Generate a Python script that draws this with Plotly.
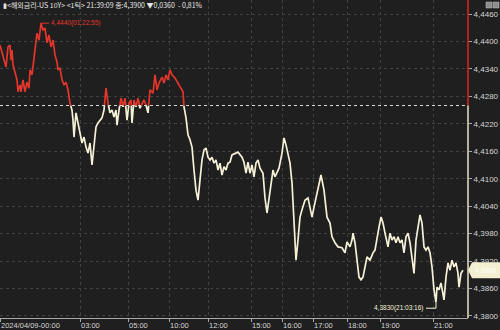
import plotly.graph_objects as go

# ---- data ----
tick_pos = [0,2,4,6,8,10,11,12,13,15,17,18,20,21,23,25,27,29,30,32,33,35,37,39,41,43,45,47,49,51,53,55,57,58,60,62,64,66,68,70,72,73,74,76,78,80,82,84,86,88,90,92,94,96,98,100,102,104,106,108,110,112,114,116,117,119,121,123,125,127,129,131,132,134,136,138,140,142,144,146,148,150,153,155,157,159,162,164,166,168,170,172,175,178,180,183,184,186,188,190,192,194,196,198,200,202,204,206,208,210,212,214,216,218,220,222,224,226,228,230,232,236,238,242,244,246,248,250,252,254,256,258,260,263,265,267,269,271,273,275,277,279,282,284,286,288,290,292,294,296,298,300,302,305,308,310,312,314,316,318,321,324,327,330,332,335,338,342,345,347,350,352,353,355,357,359,361,363,365,367,370,373,375,377,379,381,383,385,388,390,392,394,396,398,400,402,404,406,408,410,412,414,416,418,420,422,424,426,428,430,432,434,436,437,439,441,443,444,446,448,450,452,454,456,458,459,461,463]
yields = [4.4392,4.4377,4.4359,4.4344,4.4388,4.4392,4.4359,4.4381,4.4349,4.4333,4.4316,4.4290,4.4305,4.4290,4.4316,4.4290,4.4311,4.4298,4.4338,4.4327,4.4344,4.4381,4.4418,4.4403,4.4440,4.4425,4.4429,4.4397,4.4414,4.4388,4.4403,4.4370,4.4355,4.4338,4.4342,4.4316,4.4305,4.4311,4.4294,4.4265,4.4250,4.4228,4.4191,4.4244,4.4222,4.4196,4.4178,4.4191,4.4169,4.4156,4.4178,4.4130,4.4178,4.4213,4.4222,4.4228,4.4233,4.4250,4.4298,4.4265,4.4244,4.4250,4.4235,4.4250,4.4217,4.4250,4.4276,4.4257,4.4276,4.4228,4.4265,4.4272,4.4222,4.4272,4.4257,4.4276,4.4254,4.4265,4.4272,4.4261,4.4244,4.4294,4.4287,4.4327,4.4294,4.4309,4.4322,4.4309,4.4327,4.4316,4.4338,4.4327,4.4320,4.4309,4.4300,4.4290,4.4257,4.4233,4.4196,4.4185,4.4169,4.4119,4.4075,4.4053,4.4104,4.4141,4.4163,4.4167,4.4147,4.4141,4.4147,4.4134,4.4141,4.4119,4.4134,4.4108,4.4126,4.4119,4.4134,4.4136,4.4152,4.4156,4.4158,4.4147,4.4136,4.4112,4.4136,4.4112,4.4130,4.4104,4.4134,4.4141,4.4123,4.4112,4.4058,4.4025,4.4053,4.4086,4.4119,4.4104,4.4112,4.4123,4.4156,4.4189,4.4174,4.4156,4.4134,4.4091,4.4016,4.3922,4.3966,4.4016,4.4032,4.4053,4.4058,4.4038,4.4016,4.4038,4.4060,4.4082,4.4108,4.4075,4.4016,4.4003,4.3973,4.3960,4.3951,4.3949,4.3938,4.3962,4.3951,4.3966,4.3981,4.3960,4.3922,4.3885,4.3879,4.3885,4.3907,4.3929,4.3922,4.3938,4.3944,4.3973,4.3994,4.4016,4.4003,4.3981,4.3951,4.3981,4.3966,4.3973,4.3960,4.3973,4.3960,4.3966,4.3938,4.3973,4.3981,4.3960,4.3922,4.3893,4.3966,4.3994,4.4021,4.4003,4.3951,4.3944,4.3951,4.3938,4.3907,4.3857,4.3830,4.3863,4.3857,4.3872,4.3850,4.3835,4.3885,4.3916,4.3900,4.3922,4.3907,4.3916,4.3893,4.3863,4.3893,4.3900]

prev_close = 4.4260
last_price = 4.3900
high_val, high_pos, high_time = 4.4440, 41, "01:22:55"
low_val, low_pos, low_time = 4.3830, 436, "21:03:16"

x_tick_pos = [0, 80, 128, 169, 208, 251, 282, 313, 347, 380, 433]
x_tick_labels = ["2024/04/09-00:00", "03:00", "05:00", "10:00", "12:00", "15:00",
                 "16:00", "17:00", "18:00", "19:00", "21:00"]
y_tick_vals = [4.3800, 4.3860, 4.3920, 4.3980, 4.4040, 4.4100, 4.4160,
               4.4220, 4.4280, 4.4340, 4.4400, 4.4460]

header = "▮<해외금리-US 10Y> <1틱> 21:39:09 종:4,3900 ▼0,0360  - 0,81%"

RED = "#e3362b"
CREAM = "#f4f1d6"
BG = "#1f1f1f"
GRID = "#404040"
TXT = "#d6d6d6"

def fmt(v):
    return f"{v:.4f}".replace(".", ",")

# split the series at the previous close into red (above) and cream (below)
def split(xs, ys, ref):
    out = {True: ([], []), False: ([], [])}
    def add(side, xa, ya, xb, yb):
        lx, ly = out[side]
        if not (lx and lx[-1] == xa and ly[-1] == ya):
            if lx:
                lx.append(None); ly.append(None)
            lx.append(xa); ly.append(ya)
        lx.append(xb); ly.append(yb)
    for i in range(len(xs) - 1):
        x0, y0, x1, y1 = xs[i], ys[i], xs[i + 1], ys[i + 1]
        s0, s1 = y0 >= ref, y1 >= ref
        if s0 == s1:
            add(s0, x0, y0, x1, y1)
        else:
            xc = x0 + (ref - y0) * (x1 - x0) / (y1 - y0)
            add(s0, x0, y0, xc, ref)
            add(s1, xc, ref, x1, y1)
    return out

parts = split(tick_pos, yields, prev_close)

fig = go.Figure()
fig.add_trace(go.Scatter(x=parts[False][0], y=parts[False][1], mode="lines",
                         line=dict(color=CREAM, width=1.7), hoverinfo="skip"))
fig.add_trace(go.Scatter(x=parts[True][0], y=parts[True][1], mode="lines",
                         line=dict(color=RED, width=1.7), hoverinfo="skip"))

PX = 0.006 / 27.45   # value per pixel
y_top = 4.4460 + 14 * PX
y_bot = 4.4460 - 304 * PX
XMAX = 468

shapes = [
    dict(type="line", xref="x", yref="y", x0=0, x1=XMAX, y0=prev_close, y1=prev_close,
         line=dict(color="#d8d8d8", width=1, dash="dot")),
    dict(type="line", xref="paper", yref="y", x0=1, x1=1, y0=prev_close, y1=y_top,
         line=dict(color="#b3231c", width=2)),
    dict(type="line", xref="paper", yref="y", x0=1, x1=1, y0=y_bot, y1=prev_close,
         line=dict(color="#e8e4cc", width=1.5)),
    # high marker
    dict(type="line", xref="x", yref="y", x0=high_pos, x1=high_pos + 8, y0=high_val, y1=high_val,
         line=dict(color=RED, width=1)),
    dict(type="line", xref="x", yref="y", x0=high_pos, x1=high_pos, y0=high_val, y1=high_val - 3 * PX,
         line=dict(color=RED, width=1)),
    # low marker
    dict(type="line", xref="x", yref="y", x0=low_pos - 10, x1=low_pos, y0=low_val - 6 * PX, y1=low_val - 6 * PX,
         line=dict(color=CREAM, width=1)),
    dict(type="line", xref="x", yref="y", x0=low_pos, x1=low_pos, y0=low_val - 6 * PX, y1=low_val,
         line=dict(color=CREAM, width=1)),
]

# last price box
bx0 = 468 / XMAX
bx1 = 500 / XMAX
bxa = 472 / XMAX
h = 8 * PX
shapes.append(dict(type="path", xref="paper", yref="y",
                   path=f"M {bx0} {last_price} L {bxa} {last_price + h} L {bx1} {last_price + h} "
                        f"L {bx1} {last_price - h} L {bxa} {last_price - h} Z",
                   fillcolor="#f3f0d2", line=dict(width=0)))
# top-right icons
for xa, xb in [(486, 492), (493, 499)]:
    shapes.append(dict(type="rect", xref="paper", yref="paper",
                       x0=xa / XMAX, x1=xb / XMAX, y0=1 - 8 / 318, y1=1 - 2 / 318,
                       fillcolor="#8c8c8c", line=dict(color="#bdbdbd", width=0.5)))

annotations = [
    dict(text=header, xref="paper", yref="paper", x=0.002, y=1 - 5 / 318,
         xanchor="left", yanchor="middle", showarrow=False,
         font=dict(family="Noto Sans CJK KR", size=7, color="#e6e6e6")),
    dict(text=f"{fmt(high_val)}({high_time})", xref="x", yref="y", x=high_pos + 8, y=high_val,
         xanchor="left", yanchor="middle", showarrow=False,
         font=dict(family="Liberation Sans", size=6.5, color=RED)),
    dict(text=f"{fmt(low_val)}({low_time})", xref="x", yref="y", x=low_pos - 10, y=low_val - 6 * PX,
         xanchor="right", yanchor="middle", showarrow=False,
         font=dict(family="Liberation Sans", size=6.5, color=CREAM)),
    dict(text=f"{fmt(last_price)}", xref="paper", yref="y", x=499 / XMAX, y=last_price,
         xanchor="right", yanchor="middle", showarrow=False,
         font=dict(family="Liberation Sans", size=7, color="#ffffff")),
]

fig.update_layout(
    width=500, height=330,
    margin=dict(l=0, r=32, t=0, b=12),
    paper_bgcolor=BG, plot_bgcolor=BG,
    showlegend=False,
    shapes=shapes, annotations=annotations,
    xaxis=dict(range=[0, XMAX], tickvals=x_tick_pos, ticktext=x_tick_labels,
               showgrid=True, gridcolor=GRID, griddash="dot", gridwidth=1,
               zeroline=False, showline=True, linecolor="#a8a8a8", linewidth=1,
               ticks="outside", ticklen=3, tickcolor="#a8a8a8",
               ticklabelposition="outside right",
               tickfont=dict(family="Liberation Sans", size=7.5, color=TXT)),
    yaxis=dict(range=[y_bot, y_top], side="right", tickvals=y_tick_vals,
               ticktext=[fmt(v) for v in y_tick_vals],
               showgrid=True, gridcolor=GRID, griddash="dot", gridwidth=1,
               zeroline=False, showline=False,
               ticks="outside", ticklen=3, tickcolor="#a8a8a8",
               tickfont=dict(family="Liberation Sans", size=8, color=TXT)),
)

fig.write_html("out.html")
